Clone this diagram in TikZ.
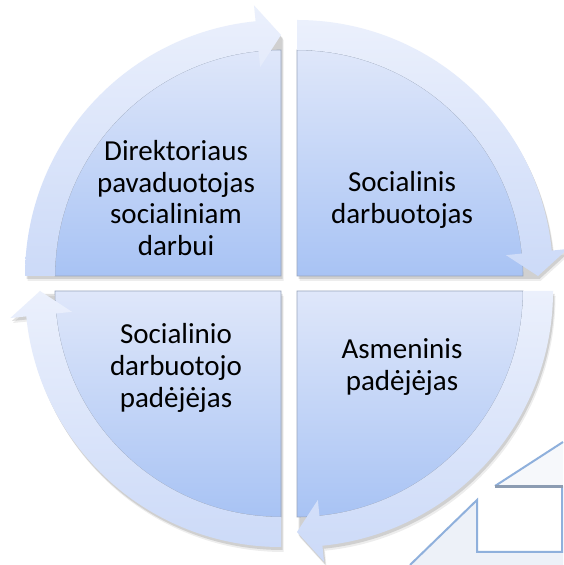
\documentclass[tikz,border=0pt]{standalone}
\usepackage{fontspec}
\setmainfont{Carlito}
\definecolor{diskTop}{HTML}{DFE7FA}
\definecolor{diskBot}{HTML}{A8C3F4}
\definecolor{ringTop}{HTML}{EBF0FC}
\definecolor{ringBot}{HTML}{CCDAF8}
\definecolor{diskEdge}{HTML}{9AA6BC}
\definecolor{decoLine}{HTML}{8FB0DC}
\definecolor{decoFill}{HTML}{EDF1F8}
\definecolor{decoBar}{HTML}{8C9CB2}
\newcommand{\qpiece}[3]{%
  \begin{scope}[shift={#1}]
    \pgfmathsetmacro\hb{#3+5.7}
    \fill[shd,shift={(1.5,-3)}] (0,0) -- (#2:256) arc[start angle=#2,end angle=\hb,radius=256] -- (\hb:272) -- (#3:241) -- cycle;
    \fill[shd,opacity=0.07,shift={(2.5,-5)}] (0,0) -- (#2:256) arc[start angle=#2,end angle=\hb,radius=256] -- (\hb:272) -- (#3:241) -- cycle;
    \draw[disk] (0,0) -- (#2:226) arc[start angle=#2,end angle=#3,radius=226] -- cycle;
    \shade[ring] (#2:226) -- (#2:256) arc[start angle=#2,end angle=\hb,radius=256] -- (\hb:272) -- (#3:241) -- (\hb:210) -- (\hb:226) arc[start angle=\hb,end angle=#2,radius=226] -- cycle;
  \end{scope}}
\begin{document}
\begin{tikzpicture}[x=1pt,y=1pt,
  lbl/.style={align=center,font=\fontsize{29}{31.6}\selectfont,text=black,inner sep=0pt},
  disk/.style={top color=diskTop,bottom color=diskBot,draw=diskEdge,line width=0.6pt},
  ring/.style={top color=ringTop,bottom color=ringBot,draw=none},
  shd/.style={fill=black,opacity=0.12,draw=none},
  deco/.style={draw=decoLine,line width=2pt,line join=miter}]
\useasboundingbox (0,0) rectangle (563,565);
\fill[white] (0,0) rectangle (563,565);
% four quarters with ring arrows
\qpiece{(281,289)}{180}{90}
\qpiece{(297,289)}{90}{0}
\qpiece{(297,274)}{0}{-90}
\qpiece{(281,274)}{-90}{-180}
% labels
\node[lbl] (tl) at (176,367) {Direktoriaus\\pavaduotojas\\socialiniam\\darbui};
\node[lbl] (tr) at (402,365) {Socialinis\\darbuotojas};
\node[lbl] (bl) at (176,197) {Socialinio\\darbuotojo\\padėjėjas};
\node[lbl] (br) at (402,198) {Asmeninis\\padėjėjas};
% partial shape at bottom right
\fill[decoFill] (410,0) -- (477,65) -- (477,13) -- (563,13) -- (563,0) -- cycle;
\fill[white] (477,13) rectangle (562,78);
\fill[decoFill!50!white] (495,79) -- (563,123) -- (563,79) -- cycle;
\draw[deco] (410,0) -- (477,65) -- (477,13) -- (562,13) -- (562,79);
\draw[deco] (495,79) -- (563,123);
\draw[decoBar,line width=3pt] (495,78) -- (563,78);
\end{tikzpicture}
\end{document}
